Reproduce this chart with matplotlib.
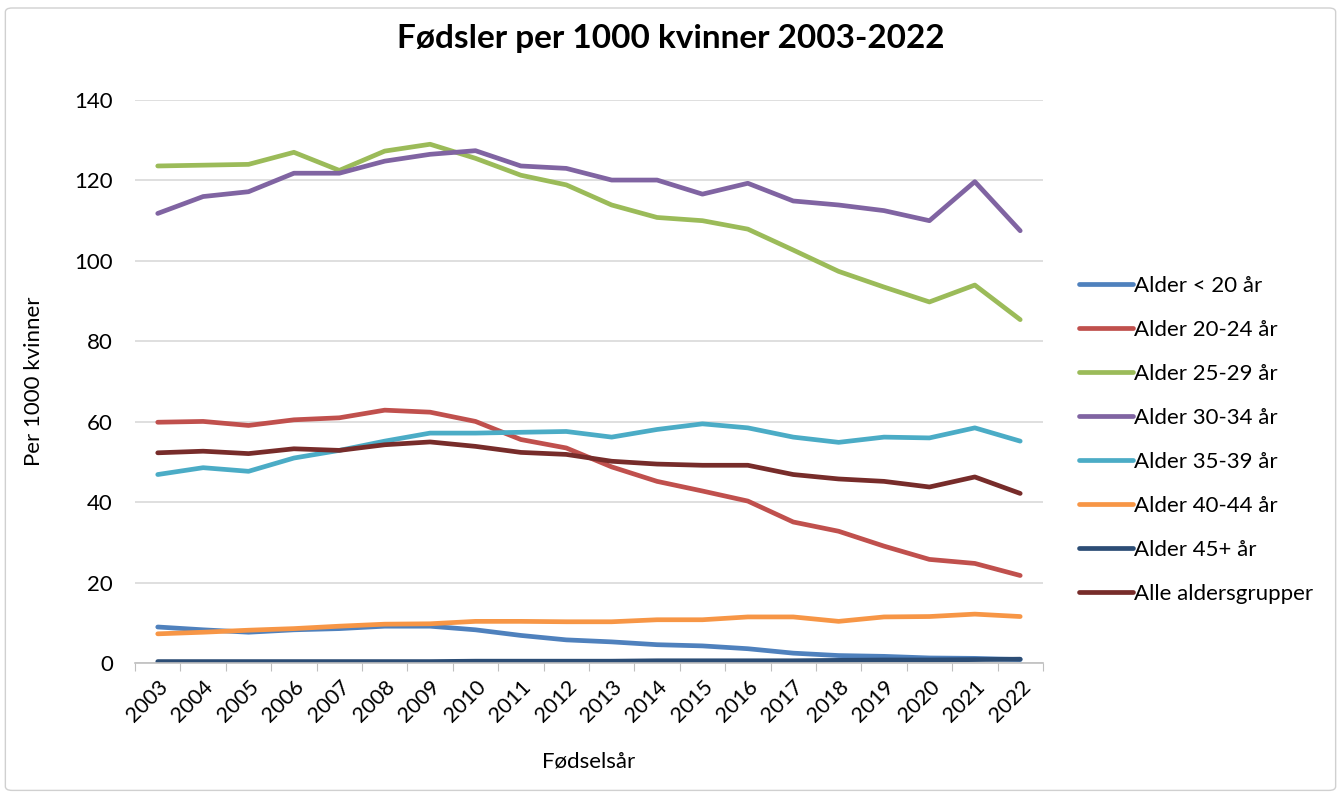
import matplotlib.pyplot as plt
from matplotlib.patches import FancyBboxPatch

plt.rcParams['font.family'] = ['Lato', 'DejaVu Sans']

years = [str(y) for y in range(2003, 2023)]

alder_u20 = [9.0, 8.3, 7.7, 8.3, 8.6, 9.2, 9.2, 8.3, 6.9, 5.8,
             5.3, 4.6, 4.3, 3.6, 2.5, 1.9, 1.7, 1.3, 1.2, 0.9]
alder_20_24 = [59.9, 60.1, 59.1, 60.5, 61.0, 62.9, 62.4, 60.1, 55.6, 53.5,
               48.8, 45.2, 42.8, 40.3, 35.1, 32.8, 29.1, 25.8, 24.8, 21.8]
alder_25_29 = [123.6, 123.8, 124.0, 127.0, 122.5, 127.3, 129.0, 125.5, 121.3, 118.9,
               113.9, 110.8, 110.0, 107.9, 102.7, 97.4, 93.5, 89.8, 94.0, 85.4]
alder_30_34 = [111.8, 116.0, 117.2, 121.8, 121.8, 124.8, 126.5, 127.4, 123.6, 123.0,
               120.1, 120.1, 116.6, 119.3, 114.9, 113.9, 112.5, 110.0, 119.7, 107.5]
alder_35_39 = [46.9, 48.6, 47.7, 51.0, 52.9, 55.2, 57.2, 57.2, 57.4, 57.6,
               56.2, 58.1, 59.5, 58.5, 56.2, 54.9, 56.2, 56.0, 58.5, 55.2]
alder_40_44 = [7.3, 7.7, 8.2, 8.6, 9.2, 9.7, 9.8, 10.4, 10.4, 10.3,
               10.3, 10.8, 10.8, 11.5, 11.5, 10.4, 11.5, 11.6, 12.2, 11.6]
alder_45 = [0.4, 0.4, 0.4, 0.4, 0.4, 0.4, 0.4, 0.5, 0.5, 0.5,
            0.5, 0.6, 0.6, 0.6, 0.6, 0.7, 0.8, 0.8, 0.9, 1.0]
alle = [52.3, 52.7, 52.1, 53.3, 52.9, 54.3, 55.0, 53.9, 52.4, 51.9,
        50.2, 49.5, 49.2, 49.2, 46.9, 45.8, 45.2, 43.8, 46.3, 42.2]

series = [
    ("Alder < 20 år", alder_u20, "#4F81BD"),
    ("Alder 20-24 år", alder_20_24, "#C0504D"),
    ("Alder 25-29 år", alder_25_29, "#9BBB59"),
    ("Alder 30-34 år", alder_30_34, "#8064A2"),
    ("Alder 35-39 år", alder_35_39, "#4BACC6"),
    ("Alder 40-44 år", alder_40_44, "#F79646"),
    ("Alder 45+ år", alder_45, "#2C4D75"),
    ("Alle aldersgrupper", alle, "#772C2A"),
]

fig = plt.figure(figsize=(13.41, 8), dpi=100)
# chart frame
fig.patches.append(FancyBboxPatch((0.004, 0.012), 0.992, 0.978,
                                  boxstyle="round,pad=0,rounding_size=0.005",
                                  transform=fig.transFigure, fill=False,
                                  edgecolor="#d0d0d0", linewidth=1))

ax = fig.add_axes([0.1007, 0.171, 0.677, 0.704])
x = list(range(len(years)))
for name, vals, col in series:
    ax.plot(x, vals, color=col, lw=3.4, label=name, solid_capstyle='round')

ax.set_ylim(0, 140)
ax.set_yticks(range(0, 141, 20))
ax.set_xlim(-0.5, len(years) - 0.5)
ax.set_xticks([i - 0.5 for i in range(len(years) + 1)])
ax.set_xticklabels([])
ax.set_xticks(x, minor=True)
ax.set_xticklabels(years, minor=True, rotation=45, ha='right',
                   rotation_mode='anchor', fontsize=15.5)
ax.tick_params(axis='x', which='major', length=6, color='#bfbfbf')
ax.tick_params(axis='x', which='minor', length=0, pad=10)
ax.tick_params(axis='y', length=0, labelsize=16, pad=16)
ax.grid(axis='y', color='#d9d9d9', lw=1.2)
ax.set_axisbelow(True)
for s in ['top', 'right', 'left']:
    ax.spines[s].set_visible(False)
ax.spines['bottom'].set_color('#bfbfbf')
ax.spines['bottom'].set_linewidth(1.2)

ax.set_ylabel("Per 1000 kvinner", fontsize=16, labelpad=22)
ax.set_xlabel("Fødselsår", fontsize=16, labelpad=18)
fig.suptitle("Fødsler per 1000 kvinner 2003-2022", fontsize=24,
             fontweight='bold', x=0.5, y=0.97)

ax.legend(loc='upper left', bbox_to_anchor=(0.79, 0.68),
          bbox_transform=fig.transFigure, frameon=False, fontsize=16,
          handlelength=2.4, handletextpad=0.05, labelspacing=1.08)

fig.savefig("out.png", dpi=100)
